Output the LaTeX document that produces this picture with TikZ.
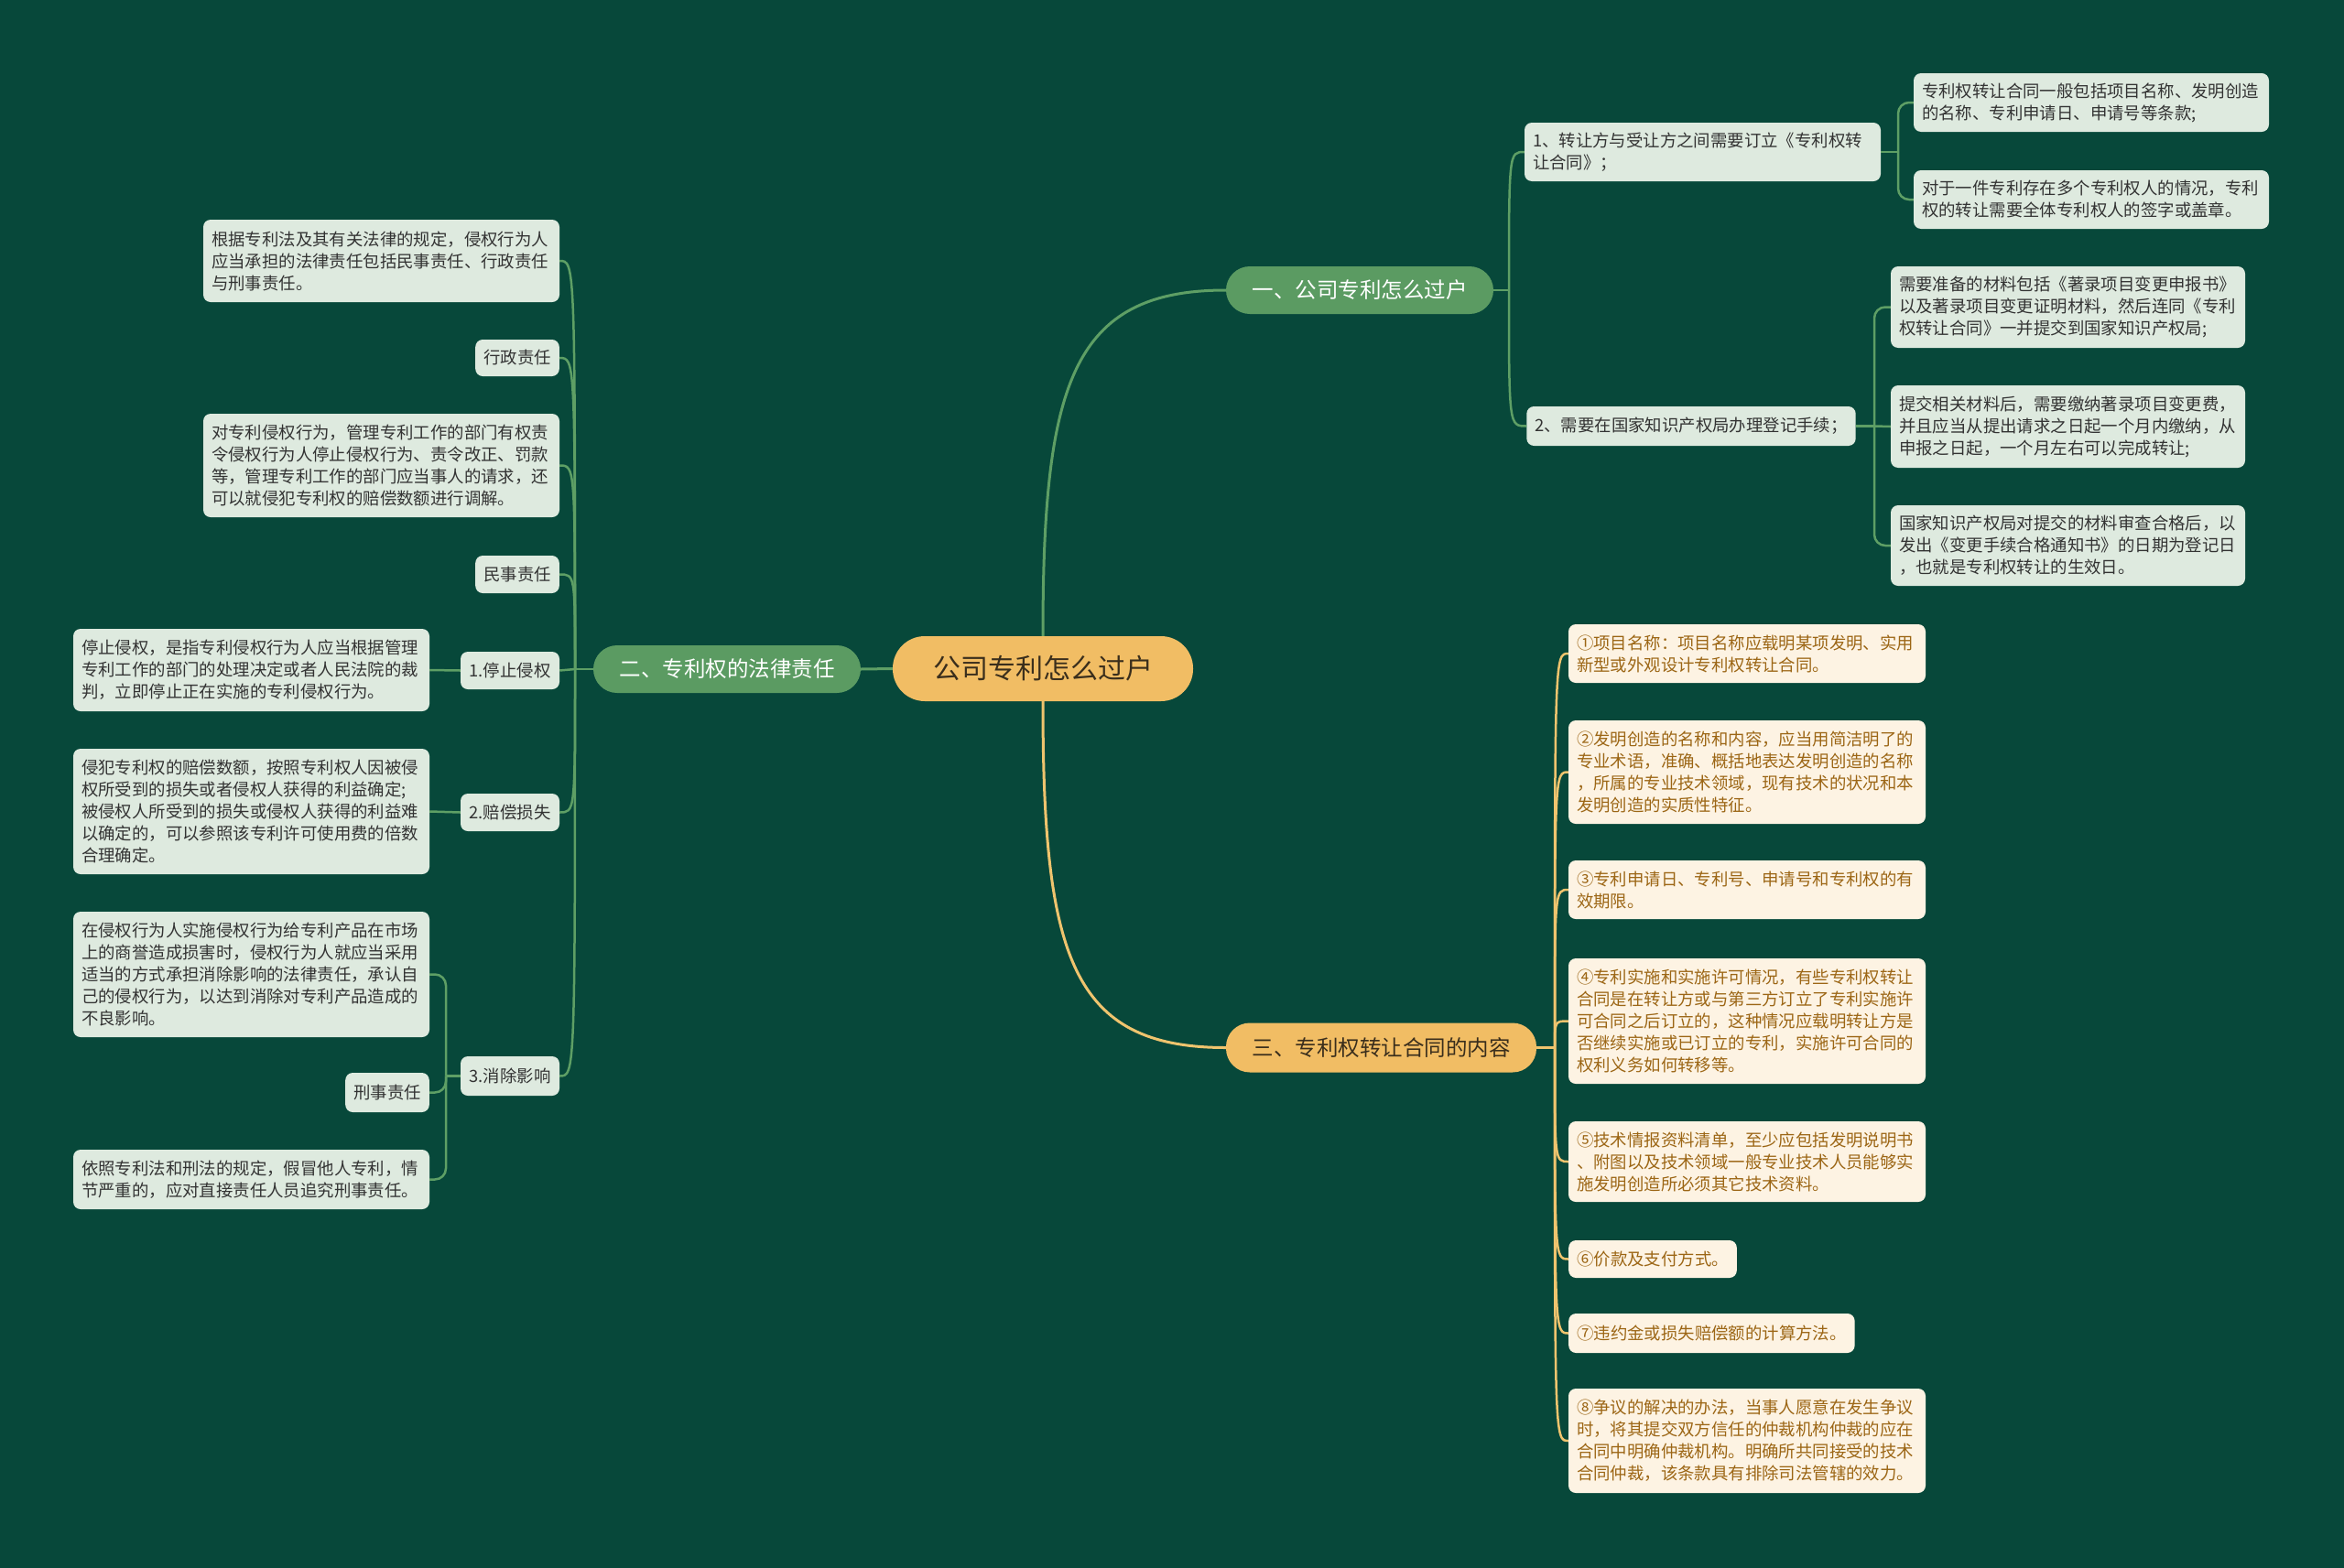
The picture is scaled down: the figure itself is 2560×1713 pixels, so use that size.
\documentclass[tikz,border=0pt]{standalone}
\usepackage{fontspec}
\setmainfont{Noto Sans CJK SC}
\definecolor{bgc}{HTML}{07483A}
\definecolor{gbr}{HTML}{5B9B62}
\definecolor{glin}{HTML}{5E9F65}
\definecolor{orr}{HTML}{F1BD64}
\definecolor{olin}{HTML}{EFC46E}
\definecolor{gleaf}{HTML}{DEEADF}
\definecolor{oleaf}{HTML}{FDF3E3}
\definecolor{otext}{HTML}{9C6615}
\definecolor{gtext}{HTML}{333333}
\definecolor{rtext}{HTML}{3A2E1C}
\tikzset{
  leafg/.style={fill=gleaf, rounded corners=8pt, inner xsep=9pt, inner ysep=0pt, text=gtext, font=\fontsize{18.4}{24}\selectfont, align=left},
  leafo/.style={leafg, fill=oleaf, text=otext},
  pillg/.style={fill=gbr, rounded corners=26pt, text=white, font=\fontsize{23.5}{28}\selectfont, minimum height=52pt, inner sep=0pt},
  pillo/.style={pillg, fill=orr, text=rtext},
  rootbox/.style={fill=orr, rounded corners=35pt, minimum width=328pt, minimum height=71pt, inner sep=0pt, text=rtext, font=\fontsize{30}{36}\selectfont},
  gcon/.style={draw=glin, line width=2.5pt},
  ocon/.style={draw=olin, line width=2.5pt},
  elbow/.style={rounded corners=12pt}
}
\begin{document}
\begin{tikzpicture}[x=1pt,y=-1pt]
\fill[bgc] (0,0) rectangle (2560,1713);
\useasboundingbox (0,0) rectangle (2560,1713);

% ---------- nodes ----------
\node[rootbox] (root) at (1139,730.5) {公司专利怎么过户};
\node[pillg, minimum width=292pt] (b1) at (1485,317) {一、公司专利怎么过户};
\node[pillg, minimum width=292pt] (b2) at (794,731) {二、专利权的法律责任};
\node[pillo, minimum width=339pt, minimum height=54pt] (b3) at (1508.5,1144.5) {三、专利权转让合同的内容};

% branch 1
\node[leafg, text width=371pt, minimum height=64pt] (b1a) at (1859.5,166) {1、转让方与受让方之间需要订立《专利权转\\让合同》；};
\node[leafg, minimum height=43pt] (b1b) at (1847,465.5) {2、需要在国家知识产权局办理登记手续；};
\node[leafg, text width=370pt, minimum height=64pt] (c1) at (2284,112) {专利权转让合同一般包括项目名称、发明创造\\的名称、专利申请日、申请号等条款;};
\node[leafg, text width=370pt, minimum height=64pt] (c2) at (2284,218) {对于一件专利存在多个专利权人的情况，专利\\权的转让需要全体专利权人的签字或盖章。};
\node[leafg, text width=369pt, minimum height=89pt] (c3) at (2258.5,335.5) {需要准备的材料包括《著录项目变更申报书》\\以及著录项目变更证明材料，然后连同《专利\\权转让合同》一并提交到国家知识产权局;};
\node[leafg, text width=369pt, minimum height=90pt] (c4) at (2258.5,466) {提交相关材料后，需要缴纳著录项目变更费，\\并且应当从提出请求之日起一个月内缴纳，从\\申报之日起，一个月左右可以完成转让;};
\node[leafg, text width=369pt, minimum height=88pt] (c5) at (2258.5,596) {国家知识产权局对提交的材料审查合格后，以\\发出《变更手续合格通知书》的日期为登记日\\，也就是专利权转让的生效日。};

% branch 2
\node[leafg, text width=371pt, minimum height=90pt] (la) at (416.5,285) {根据专利法及其有关法律的规定，侵权行为人\\应当承担的法律责任包括民事责任、行政责任\\与刑事责任。};
\node[leafg, minimum height=40pt] (lb) at (565,391) {行政责任};
\node[leafg, text width=371pt, minimum height=113pt] (lc) at (416.5,508.5) {对专利侵权行为，管理专利工作的部门有权责\\令侵权行为人停止侵权行为、责令改正、罚款\\等，管理专利工作的部门应当事人的请求，还\\可以就侵犯专利权的赔偿数额进行调解。};
\node[leafg, minimum height=41pt] (ld) at (565,627.5) {民事责任};
\node[leafg, minimum height=41pt, minimum width=108pt] (l1) at (557,732.5) {1.停止侵权};
\node[leafg, minimum height=41pt, minimum width=108pt] (l2) at (557,887.5) {2.赔偿损失};
\node[leafg, minimum height=43pt, minimum width=108pt] (l3) at (557,1175.5) {3.消除影响};
\node[leafg, text width=371pt, minimum height=90pt] (l1a) at (274.5,732) {停止侵权，是指专利侵权行为人应当根据管理\\专利工作的部门的处理决定或者人民法院的裁\\判，立即停止正在实施的专利侵权行为。};
\node[leafg, text width=371pt, minimum height=137pt] (l2a) at (274.5,886.5) {侵犯专利权的赔偿数额，按照专利权人因被侵\\权所受到的损失或者侵权人获得的利益确定;\\被侵权人所受到的损失或侵权人获得的利益难\\以确定的，可以参照该专利许可使用费的倍数\\合理确定。};
\node[leafg, text width=371pt, minimum height=137pt] (l3a) at (274.5,1064.5) {在侵权行为人实施侵权行为给专利产品在市场\\上的商誉造成损害时，侵权行为人就应当采用\\适当的方式承担消除影响的法律责任，承认自\\己的侵权行为，以达到消除对专利产品造成的\\不良影响。};
\node[leafg, minimum height=43pt] (l3b) at (423,1193.5) {刑事责任};
\node[leafg, text width=371pt, minimum height=65pt] (l3c) at (274.5,1288.5) {依照专利法和刑法的规定，假冒他人专利，情\\节严重的，应对直接责任人员追究刑事责任。};

% branch 3
\node[leafo, text width=372pt, minimum height=64pt] (o1) at (1908,714) {①项目名称：项目名称应载明某项发明、实用\\新型或外观设计专利权转让合同。};
\node[leafo, text width=372pt, minimum height=113pt] (o2) at (1908,843.5) {②发明创造的名称和内容，应当用简洁明了的\\专业术语，准确、概括地表达发明创造的名称\\，所属的专业技术领域，现有技术的状况和本\\发明创造的实质性特征。};
\node[leafo, text width=372pt, minimum height=64pt] (o3) at (1908,972) {③专利申请日、专利号、申请号和专利权的有\\效期限。};
\node[leafo, text width=372pt, minimum height=137pt] (o4) at (1908,1115.5) {④专利实施和实施许可情况，有些专利权转让\\合同是在转让方或与第三方订立了专利实施许\\可合同之后订立的，这种情况应载明转让方是\\否继续实施或已订立的专利，实施许可合同的\\权利义务如何转移等。};
\node[leafo, text width=372pt, minimum height=88pt] (o5) at (1908,1269) {⑤技术情报资料清单，至少应包括发明说明书\\、附图以及技术领域一般专业技术人员能够实\\施发明创造所必须其它技术资料。};
\node[leafo, minimum height=41pt, anchor=west] (o6) at (1713,1375.5) {⑥价款及支付方式。};
\node[leafo, minimum height=43pt, anchor=west] (o7) at (1713,1456.5) {⑦违约金或损失赔偿额的计算方法。};
\node[leafo, text width=372pt, minimum height=114pt] (o8) at (1908,1574) {⑧争议的解决的办法，当事人愿意在发生争议\\时，将其提交双方信任的仲裁机构仲裁的应在\\合同中明确仲裁机构。明确所共同接受的技术\\合同仲裁，该条款具有排除司法管辖的效力。};

% ---------- connectors ----------
\begin{scope}[on background layer/.style={}]
\end{scope}
% root to branches
\draw[gcon, line width=3pt] (root.north) .. controls (1139,420) and (1170,317) .. (b1.west);
\draw[ocon, line width=3pt] (root.south) .. controls (1139,1045) and (1170,1144.5) .. (b3.west);
\draw[gcon, line width=3pt] (root.west) -- (b2.east);

% branch 1
\coordinate (j1) at (1648,317);
\draw[gcon] (b1.east) -- (j1);
\draw[gcon] (j1) .. controls (1648,166) and (1648,166) .. (b1a.west);
\draw[gcon] (j1) .. controls (1648,465.5) and (1648,465.5) .. (b1b.west);
\coordinate (j1a) at (2073,166);
\draw[gcon] (b1a.east) -- (j1a);
\draw[gcon, elbow] (j1a) -- (2073,112) -- (c1.west);
\draw[gcon, elbow] (j1a) -- (2073,218) -- (c2.west);
\coordinate (j1b) at (2047,465.5);
\draw[gcon] (b1b.east) -- (j1b);
\draw[gcon, elbow] (j1b) -- (2047,335.5) -- (c3.west);
\draw[gcon] (j1b) -- (c4.west);
\draw[gcon, elbow] (j1b) -- (2047,596) -- (c5.west);

% branch 2
\coordinate (j2) at (628,731);
\draw[gcon] (b2.west) -- (j2);
\foreach \n/\yy in {la/285, lb/391, lc/508.5, ld/627.5, l2/887.5, l3/1175.5}{
  \draw[gcon] (j2) .. controls (628,\yy) and (628,\yy) .. (\n.east);
}
\draw[gcon] (j2) -- (l1.east);
\draw[gcon] (l1.west) -- (l1a.east);
\draw[gcon] (l2.west) -- (l2a.east);
\coordinate (j3) at (487,1175.5);
\draw[gcon] (l3.west) -- (j3);
\draw[gcon, elbow] (j3) -- (487,1064.5) -- (l3a.east);
\draw[gcon, elbow] (j3) -- (487,1193.5) -- (l3b.east);
\draw[gcon, elbow] (j3) -- (487,1288.5) -- (l3c.east);

% branch 3
\coordinate (j4) at (1698,1144.5);
\draw[ocon] (b3.east) -- (j4);
\foreach \n/\yy in {o1/714, o2/843.5, o3/972, o4/1115.5, o5/1269, o6/1375.5, o7/1456.5, o8/1574}{
  \draw[ocon] (j4) .. controls (1698,\yy) and (1698,\yy) .. (\n.west);
}
\end{tikzpicture}
\end{document}
